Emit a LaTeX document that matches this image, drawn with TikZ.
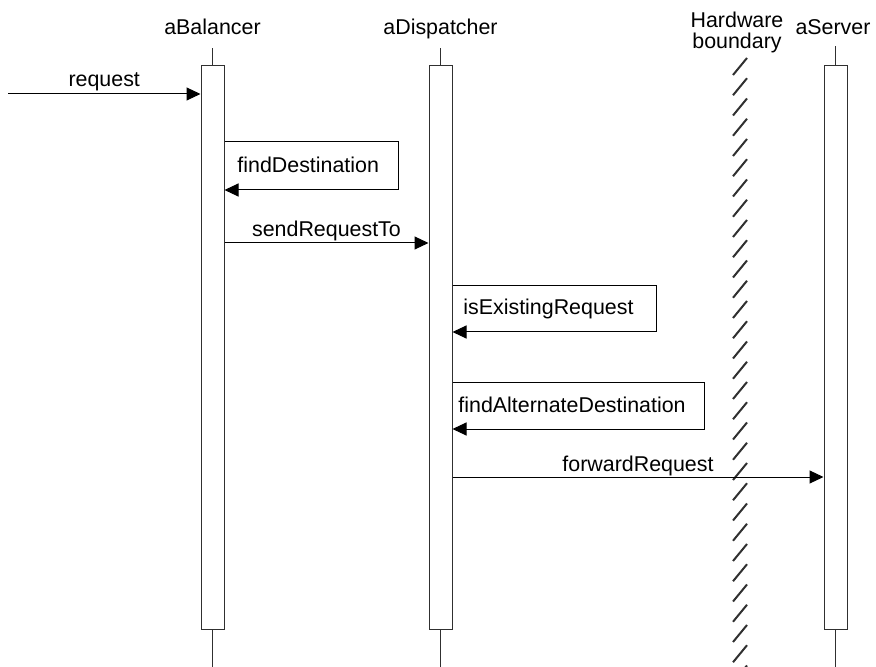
\documentclass[tikz,border=0pt]{standalone}
\usepackage{fontspec}
\setmainfont{Liberation Sans}
\usetikzlibrary{arrows.meta,positioning,calc}
\definecolor{inkline}{HTML}{303030}
\tikzset{
  actbox/.style   = {draw=inkline, fill=white, line width=0.5pt, inner sep=0pt,
                     minimum width=11.5pt, minimum height=281.5pt},
  lifeline/.style = {draw=inkline, line width=0.5pt},
  msg/.style      = {-{Triangle[length=7pt,width=6.5pt]}, draw=black, line width=0.5pt},
  msgtext/.style  = {font=\fontsize{10.7}{10.7}\selectfont, inner sep=0pt},
  msglabel/.style = {msgtext, anchor=base, yshift=3pt},
  headtext/.style = {font=\fontsize{10.7}{10.5}\selectfont, align=center, inner sep=0pt},
  hatchline/.style= {draw=inkline, line width=1pt},
}

\begin{document}
\begin{tikzpicture}[x=0.5pt, y=-0.5pt]
    \useasboundingbox (0,0) rectangle (876,667);

    % object names
    \node[headtext, anchor=base] (balName) at (212.5,35) {aBalancer};
    \node[headtext, anchor=base] (dspName) at (440.5,35) {aDispatcher};
    \node[headtext, anchor=base] (srvName) at (833,35) {aServer};
    \node[headtext] (hwName) at (737,32) {Hardware\\boundary};

    % activations and lifelines
    \node[actbox] (bal) at (212.5,347.5) {};
    \node[actbox] (dsp) at (440.5,347.5) {};
    \node[actbox] (srv) at (835.5,347.5) {};
    \draw[lifeline] (bal.north) -- ++(0,-17);  \draw[lifeline] (bal.south) -- ++(0,40);
    \draw[lifeline] (dsp.north) -- ++(0,-17);  \draw[lifeline] (dsp.south) -- ++(0,40);
    \draw[lifeline] (srv.north) -- ++(0,-19);  \draw[lifeline] (srv.south) -- ++(0,40);

    % hardware boundary
    \foreach \y in {58,78.25,...,670}
      \draw[hatchline] (733,\y+17) -- (747,\y);

    % messages
    \coordinate (reqStart) at (8,94);
    \draw[msg] (reqStart) -- node[msglabel, yshift=0.5pt] {request} (bal.west |- reqStart);

    \coordinate (fdTop) at (398,142);
    \coordinate (fdBot) at (398,190);
    \draw[msg] (bal.east |- fdTop) -- (fdTop) -- (fdBot) -- (bal.east |- fdBot);
    \node[msgtext, anchor=base west] (fdText) at (237,173) {findDestination};

    \coordinate (srY) at (0,243);
    \draw[msg] (bal.east |- srY) -- node[msglabel] {sendRequestTo} (dsp.west |- srY);

    \coordinate (ierTop) at (656,286);
    \coordinate (ierBot) at (656,332);
    \draw[msg] (dsp.east |- ierTop) -- (ierTop) -- (ierBot) -- (dsp.east |- ierBot);
    \node[msgtext, anchor=base west] (ierText) at (463,315) {isExistingRequest};

    \coordinate (fadTop) at (704,382);
    \coordinate (fadBot) at (704,429);
    \draw[msg] (dsp.east |- fadTop) -- (fadTop) -- (fadBot) -- (dsp.east |- fadBot);
    \node[msgtext, anchor=base west] (fadText) at (458,412) {findAlternateDestination};

    \coordinate (fwY) at (0,477);
    \draw[msg] (dsp.east |- fwY) -- node[msglabel] {forwardRequest} (srv.west |- fwY);
\end{tikzpicture}
\end{document}
